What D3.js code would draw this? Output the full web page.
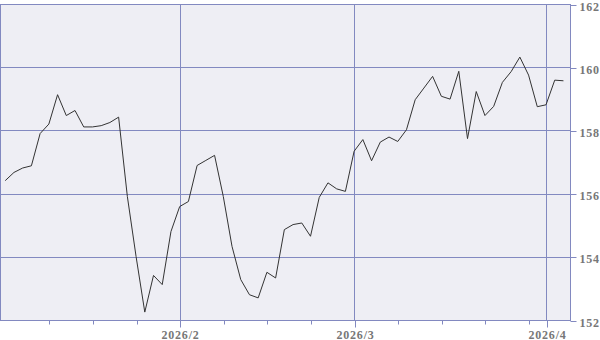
<!DOCTYPE html>
<html>
<head>
<meta charset="utf-8">
<script src="https://cdn.jsdelivr.net/npm/d3@7"></script>
<style>
  html, body { margin: 0; padding: 0; background: #fff; }
  #chart { width: 600px; height: 340px; }
</style>
</head>
<body>
<div id="chart"></div>
<script>

// trading days (weekdays only)
const dates = [
    "2026-01-05", "2026-01-06", "2026-01-07", "2026-01-08", "2026-01-09",
    "2026-01-12", "2026-01-13", "2026-01-14", "2026-01-15", "2026-01-16",
    "2026-01-19", "2026-01-20", "2026-01-21", "2026-01-22", "2026-01-23",
    "2026-01-26", "2026-01-27", "2026-01-28", "2026-01-29", "2026-01-30",
    "2026-02-02", "2026-02-03", "2026-02-04", "2026-02-05", "2026-02-06",
    "2026-02-09", "2026-02-10", "2026-02-11", "2026-02-12", "2026-02-13",
    "2026-02-16", "2026-02-17", "2026-02-18", "2026-02-19", "2026-02-20",
    "2026-02-23", "2026-02-24", "2026-02-25", "2026-02-26", "2026-02-27",
    "2026-03-02", "2026-03-03", "2026-03-04", "2026-03-05", "2026-03-06",
    "2026-03-09", "2026-03-10", "2026-03-11", "2026-03-12", "2026-03-13",
    "2026-03-16", "2026-03-17", "2026-03-18", "2026-03-19", "2026-03-20",
    "2026-03-23", "2026-03-24", "2026-03-25", "2026-03-26", "2026-03-27",
    "2026-03-30", "2026-03-31", "2026-04-01", "2026-04-02", "2026-04-03"
];

const prices = [
    156.41, 156.67, 156.81, 156.88, 157.90,
    158.20, 159.13, 158.47, 158.63, 158.11,
    158.11, 158.15, 158.25, 158.42, 155.91,
    154.01, 152.25, 153.41, 153.12, 154.80,
    155.59, 155.75, 156.89, 157.05, 157.21,
    155.91, 154.33, 153.28, 152.80, 152.70,
    153.51, 153.33, 154.86, 155.02, 155.07,
    154.65, 155.88, 156.34, 156.15, 156.07,
    157.34, 157.71, 157.04, 157.63, 157.79,
    157.65, 158.02, 158.97, 159.34, 159.71,
    159.08, 158.99, 159.87, 157.74, 159.23,
    158.47, 158.76, 159.52, 159.86, 160.32,
    159.75, 158.75, 158.81, 159.59, 159.57
];

const yTicks = [152, 154, 156, 158, 160, 162];

function drawChart() {

    const container = d3.select("#chart")
    container.selectAll("*").remove()

    const width = 600, height = 340;
    const margin = { top: 4, right: 30, bottom: 20, left: 0 };
    const innerWidth = width - margin.left - margin.right;
    const innerHeight = height - margin.top - margin.bottom;
    const gridColor = "#8289c0";

    const svg = container
        .append("svg")
        .attr("width", width)
        .attr("height", height)
        .attr("viewBox", `0 0 ${width} ${height}`);

    const g = svg
        .append("g")
        .attr("transform", `translate(${margin.left + 0.5},${margin.top + 0.5})`)

    const parse = d3.timeParse("%Y-%m-%d");
    const data = dates.map((d, i) => ({ i: i, date: parse(d), value: prices[i] }));

    // x by trading-day index, a little padding on both ends
    const x = d3.scaleLinear()
        .domain([-0.6, dates.length - 0.25])
        .range([0, innerWidth]);

    const y = d3.scaleLinear()
        .domain([152, 162])
        .range([innerHeight, 0]);

    // first trading day of each month, and the mondays
    const monthStarts = data.filter((d, i) => i > 0 && d.date.getMonth() !== data[i - 1].date.getMonth());
    const mondays = data.filter(d => d.i > 0 && d.date.getDay() === 1).map(d => d.i);

    // background
    g.append("rect")
        .attr("x", 0)
        .attr("y", 0)
        .attr("width", innerWidth)
        .attr("height", innerHeight)
        .attr("fill", "#eeeef4")
        .attr("stroke", gridColor)
        .attr("stroke-width", 1);

    // horizontal grid
    g.selectAll(".hgrid")
        .data(yTicks)
        .enter()
        .append("line")
        .attr("x1", 0)
        .attr("x2", innerWidth)
        .attr("y1", d => Math.round(y(d)))
        .attr("y2", d => Math.round(y(d)))
        .attr("stroke", gridColor);

    // vertical grid at month starts
    g.selectAll(".vgrid")
        .data(monthStarts)
        .enter()
        .append("line")
        .attr("x1", d => Math.round(x(d.i)))
        .attr("x2", d => Math.round(x(d.i)))
        .attr("y1", 0)
        .attr("y2", innerHeight)
        .attr("stroke", gridColor);

    // weekly minor ticks
    const minorAxis = g.append("g")
        .attr("transform", `translate(0,${innerHeight})`)
        .call(d3.axisBottom(x).tickValues(mondays).tickSize(4).tickFormat(""));

    // month ticks with labels
    const monthAxis = g.append("g")
        .attr("transform", `translate(0,${innerHeight})`)
        .call(d3.axisBottom(x)
            .tickValues(monthStarts.map(d => d.i))
            .tickSize(7)
            .tickPadding(2)
            .tickFormat(i => d3.timeFormat("%Y/")(data[i].date) + (data[i].date.getMonth() + 1)));

    // right axis
    const yAxis = g.append("g")
        .attr("transform", `translate(${innerWidth},0)`)
        .call(d3.axisRight(y).tickValues(yTicks).tickSize(6).tickPadding(3));

    [minorAxis, monthAxis, yAxis].forEach(a => {
        a.select(".domain").remove();
        a.selectAll("line").attr("stroke", gridColor);
        a.selectAll("text")
            .attr("fill", "#777")
            .style("font-family", "'Liberation Serif', serif")
            .style("font-weight", "bold")
            .style("font-size", "12px")
            .style("letter-spacing", "0.8px");
        a.selectAll(".tick").attr("transform", function () {
            const t = d3.select(this).attr("transform");
            const m = /translate\(([^,]+),([^)]+)\)/.exec(t);
            return `translate(${Math.round(+m[1])},${Math.round(+m[2])})`;
        });
    });

    monthAxis.selectAll("text").attr("dy", "0.75em");
    yAxis.selectAll("text").attr("dy", "0.45em");

    // right axis line
    g.append("line")
        .attr("x1", innerWidth)
        .attr("x2", innerWidth)
        .attr("y1", 0)
        .attr("y2", innerHeight)
        .attr("stroke", gridColor);

    // price line
    const line = d3.line()
        .x(d => x(d.i))
        .y(d => y(d.value));

    svg.append("path")
        .datum(data)
        .attr("transform", `translate(${margin.left},${margin.top})`)
        .attr("fill", "none")
        .attr("stroke", "#333")
        .attr("stroke-width", 1)
        .attr("d", line);
}

drawChart();
</script>
</body>
</html>
